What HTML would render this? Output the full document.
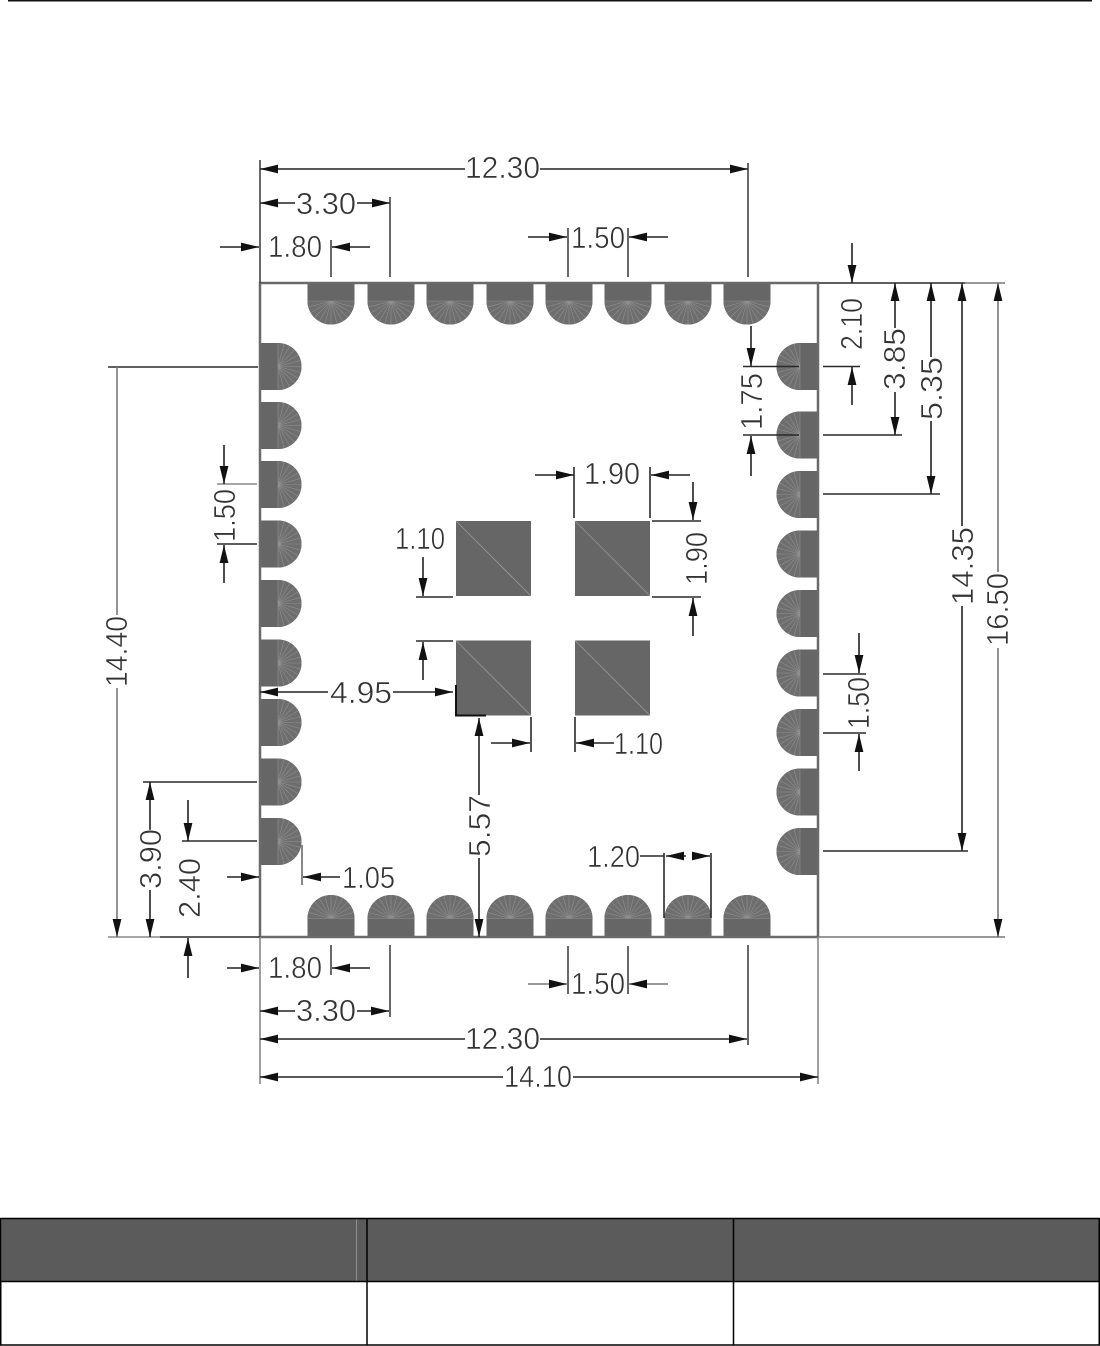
<!DOCTYPE html>
<html><head><meta charset="utf-8"><style>
html,body{margin:0;padding:0;background:#fff}
svg{display:block}
text{font-family:"Liberation Sans",sans-serif;font-size:31px;fill:#333;stroke:#fff;stroke-width:.55px}
</style></head><body>
<svg xmlns="http://www.w3.org/2000/svg" width="1100" height="1346" viewBox="0 0 1100 1346">
<defs>
<marker id="m" markerUnits="userSpaceOnUse" markerWidth="20" markerHeight="10" refX="18" refY="5" orient="auto" overflow="visible"><path d="M0 .6L18 5L0 9.4z" fill="#111"/></marker>
<g id="p">
<path d="M-23.5 -18.5H23.5V0A23.5 23.5 0 0 1 -23.5 0z" fill="#666"/>
<path d="M-23.5 0H23.5A23.5 23.5 0 0 1 -23.5 0z" fill="#6e6e6e"/>
<path d="M-23 0L23 0M0 0L0 23.5M0 0L22.7 6.1M0 0L20.4 11.8M0 0L16.6 16.6M0 0L11.8 20.4M0 0L6.1 22.7M0 0L-22.7 6.1M0 0L-20.4 11.8M0 0L-16.6 16.6M0 0L-11.8 20.4M0 0L-6.1 22.7" stroke="#8f8f8f" stroke-width=".6" fill="none"/>
</g>
<g id="q"><rect width="75" height="75" fill="#666"/><path d="M0 0L75 75" stroke="#999" stroke-width=".8"/></g>
</defs>

<rect x="8" y="0" width="1084" height="1.5" fill="#111"/>

<!-- top pads -->
<use href="#p" transform="translate(331 301)"/><use href="#p" transform="translate(391 301)"/><use href="#p" transform="translate(450 301)"/><use href="#p" transform="translate(510 301)"/><use href="#p" transform="translate(569 301)"/><use href="#p" transform="translate(628 301)"/><use href="#p" transform="translate(688 301)"/><use href="#p" transform="translate(747 301)"/>
<!-- bottom pads -->
<use href="#p" transform="translate(331 918.5) rotate(180)"/><use href="#p" transform="translate(391 918.5) rotate(180)"/><use href="#p" transform="translate(450 918.5) rotate(180)"/><use href="#p" transform="translate(510 918.5) rotate(180)"/><use href="#p" transform="translate(569 918.5) rotate(180)"/><use href="#p" transform="translate(628 918.5) rotate(180)"/><use href="#p" transform="translate(688 918.5) rotate(180)"/><use href="#p" transform="translate(747 918.5) rotate(180)"/>
<!-- left pads -->
<use href="#p" transform="translate(278 366.5) rotate(-90)"/><use href="#p" transform="translate(278 425.5) rotate(-90)"/><use href="#p" transform="translate(278 484.5) rotate(-90)"/><use href="#p" transform="translate(278 544) rotate(-90)"/><use href="#p" transform="translate(278 603.5) rotate(-90)"/><use href="#p" transform="translate(278 663) rotate(-90)"/><use href="#p" transform="translate(278 722.5) rotate(-90)"/><use href="#p" transform="translate(278 782) rotate(-90)"/><use href="#p" transform="translate(278 841.5) rotate(-90)"/>
<!-- right pads -->
<use href="#p" transform="translate(800 366.5) rotate(90)"/><use href="#p" transform="translate(800 435) rotate(90)"/><use href="#p" transform="translate(800 494.5) rotate(90)"/><use href="#p" transform="translate(800 554) rotate(90)"/><use href="#p" transform="translate(800 613.5) rotate(90)"/><use href="#p" transform="translate(800 673) rotate(90)"/><use href="#p" transform="translate(800 732.5) rotate(90)"/><use href="#p" transform="translate(800 792) rotate(90)"/><use href="#p" transform="translate(800 851.5) rotate(90)"/>

<!-- outline -->
<rect x="260" y="283" width="558" height="654" fill="none" stroke="#6a6a6a" stroke-width="2.5"/>

<!-- centre squares -->
<use href="#q" x="456" y="521"/><use href="#q" x="575" y="521"/><use href="#q" x="456" y="640.5"/><use href="#q" x="575" y="640.5"/>
<path d="M456 685V715.5H486" fill="none" stroke="#111" stroke-width="2"/>

<!-- extension / plain lines -->
<g stroke="#2a2a2a" stroke-width="1.6" fill="none">
<path d="M260 160V283M748 163V277M390 197V277M331 240V277M568 228V277M628 228V277" stroke="#444"/>
<path d="M819 283H965M743 366.5H799M823 366.5H860M743 435H799M823 435H902M823 494H940M823 851H968M823 674H866M823 733H866"/>
<path d="M965 283H1005M818 937H1005" stroke="#777"/>
<path d="M108 367H258M143 782H257M182 841H257M217 544H257M160 937H260"/>
<path d="M108 937H160M217 484H257" stroke="#888"/>
<path d="M302 845V885"  stroke="#888" stroke-width="2"/>
<path d="M260 937V1084M818 937V1084" stroke="#888"/>
<path d="M331 945V975M390 945V1017M568 946V994M628 946V994M748 945V1045" stroke="#444"/>
<path d="M664 853V918M711 853V918M640 856H664"/>
<path d="M416 597H453M416 641H453M531 717V752M575 717V752M574 467V518M650 467V518M652 521H701M652 597H701"/>
<path d="M117 615V367" stroke="#777"/>
</g>

<!-- arrowed dimension lines -->
<g stroke="#222" stroke-width="1.6" fill="none" marker-end="url(#m)">
<path d="M465 169H260"/><path d="M540 169H748"/>
<path d="M295 203H260"/><path d="M357 203H390"/>
<path d="M220 247H259"/><path d="M370 247H332"/>
<path d="M528 237H567"/><path d="M668 237H629"/>
<path d="M852 243V283"/><path d="M852 405V367"/>
<path d="M895 328V283"/><path d="M895 392V435"/>
<path d="M931 357V283"/><path d="M931 421V494"/>
<path d="M962 526V283"/><path d="M962 606V851"/>
<path d="M998 572V283" stroke="#777"/><path d="M998 648V937" stroke="#777"/>
<path d="M751 326V366"/><path d="M751 476V436"/>
<path d="M859 633V673"/><path d="M859 771V734"/>
<path d="M117 688V937" stroke="#777"/>
<path d="M150 830V782"/><path d="M150 890V937"/>
<path d="M188 800V841"/><path d="M188 978V938"/>
<path d="M224 445V484"/><path d="M224 583V545"/>
<path d="M227 877H259"/><path d="M340 877H303"/>
<path d="M227 968H259"/><path d="M370 968H332"/>
<path d="M295 1011H260"/><path d="M357 1011H389"/>
<path d="M465 1039H260"/><path d="M540 1039H747"/>
<path d="M503 1077H260"/><path d="M573 1077H818"/>
<path d="M528 984H567" stroke="#777"/><path d="M668 984H629" stroke="#777"/>
<path d="M686 856H666"/><path d="M692 856H710"/>
<path d="M479 795V718"/><path d="M479 858V937"/>
<path d="M328 692H260"/><path d="M393 692H453"/>
<path d="M423 557V596"/><path d="M423 680V642"/>
<path d="M491 743H530"/><path d="M614 743H576"/>
<path d="M535 475H574"/><path d="M690 475H651"/>
<path d="M693 482V520"/><path d="M693 636V598"/>
</g>

<!-- labels -->
<text x="465" y="178" textLength="75" lengthAdjust="spacingAndGlyphs">12.30</text>
<text x="296" y="214" textLength="60" lengthAdjust="spacingAndGlyphs">3.30</text>
<text x="268" y="257" textLength="54" lengthAdjust="spacingAndGlyphs">1.80</text>
<text x="571" y="248" textLength="54" lengthAdjust="spacingAndGlyphs">1.50</text>
<text x="268" y="978" textLength="54" lengthAdjust="spacingAndGlyphs">1.80</text>
<text x="296" y="1021" textLength="60" lengthAdjust="spacingAndGlyphs">3.30</text>
<text x="465" y="1049" textLength="75" lengthAdjust="spacingAndGlyphs">12.30</text>
<text x="504" y="1087" textLength="68" lengthAdjust="spacingAndGlyphs">14.10</text>
<text x="571" y="994" textLength="54" lengthAdjust="spacingAndGlyphs">1.50</text>
<text x="587" y="867" textLength="53" lengthAdjust="spacingAndGlyphs">1.20</text>
<text x="342" y="888" textLength="53" lengthAdjust="spacingAndGlyphs">1.05</text>
<text x="330" y="703" textLength="62" lengthAdjust="spacingAndGlyphs">4.95</text>
<text x="395" y="549" textLength="50" lengthAdjust="spacingAndGlyphs">1.10</text>
<text x="614" y="754" textLength="49" lengthAdjust="spacingAndGlyphs">1.10</text>
<text x="584" y="484" textLength="56" lengthAdjust="spacingAndGlyphs">1.90</text>
<text transform="translate(862 350) rotate(-90)" textLength="52" lengthAdjust="spacingAndGlyphs">2.10</text>
<text transform="translate(905 390) rotate(-90)" textLength="62" lengthAdjust="spacingAndGlyphs">3.85</text>
<text transform="translate(942 420) rotate(-90)" textLength="63" lengthAdjust="spacingAndGlyphs">5.35</text>
<text transform="translate(973 605) rotate(-90)" textLength="78" lengthAdjust="spacingAndGlyphs">14.35</text>
<text transform="translate(1008 646) rotate(-90)" textLength="73" lengthAdjust="spacingAndGlyphs">16.50</text>
<text transform="translate(762 430) rotate(-90)" textLength="57" lengthAdjust="spacingAndGlyphs">1.75</text>
<text transform="translate(869 729) rotate(-90)" textLength="52" lengthAdjust="spacingAndGlyphs">1.50</text>
<text transform="translate(235 542) rotate(-90)" textLength="53" lengthAdjust="spacingAndGlyphs">1.50</text>
<text transform="translate(127 687) rotate(-90)" textLength="71" lengthAdjust="spacingAndGlyphs">14.40</text>
<text transform="translate(161 889) rotate(-90)" textLength="60" lengthAdjust="spacingAndGlyphs">3.90</text>
<text transform="translate(200 918) rotate(-90)" textLength="60" lengthAdjust="spacingAndGlyphs">2.40</text>
<text transform="translate(490 857) rotate(-90)" textLength="62" lengthAdjust="spacingAndGlyphs">5.57</text>
<text transform="translate(707 585) rotate(-90)" textLength="53" lengthAdjust="spacingAndGlyphs">1.90</text>

<!-- table -->
<rect x="1" y="1219" width="1098" height="62" fill="#5b5b5b"/>
<path d="M1.5 1219V1281M356.5 1219V1281" stroke="#8f8f8f" stroke-width="1"/>
<g stroke="#000" stroke-width="1.5" fill="none">
<rect x=".75" y="1218.5" width="1098.5" height="126.5"/>
<path d="M.75 1281.5H1099.25M367 1218.5V1345M733.5 1218.5V1345"/>
</g>
</svg>
</body></html>
